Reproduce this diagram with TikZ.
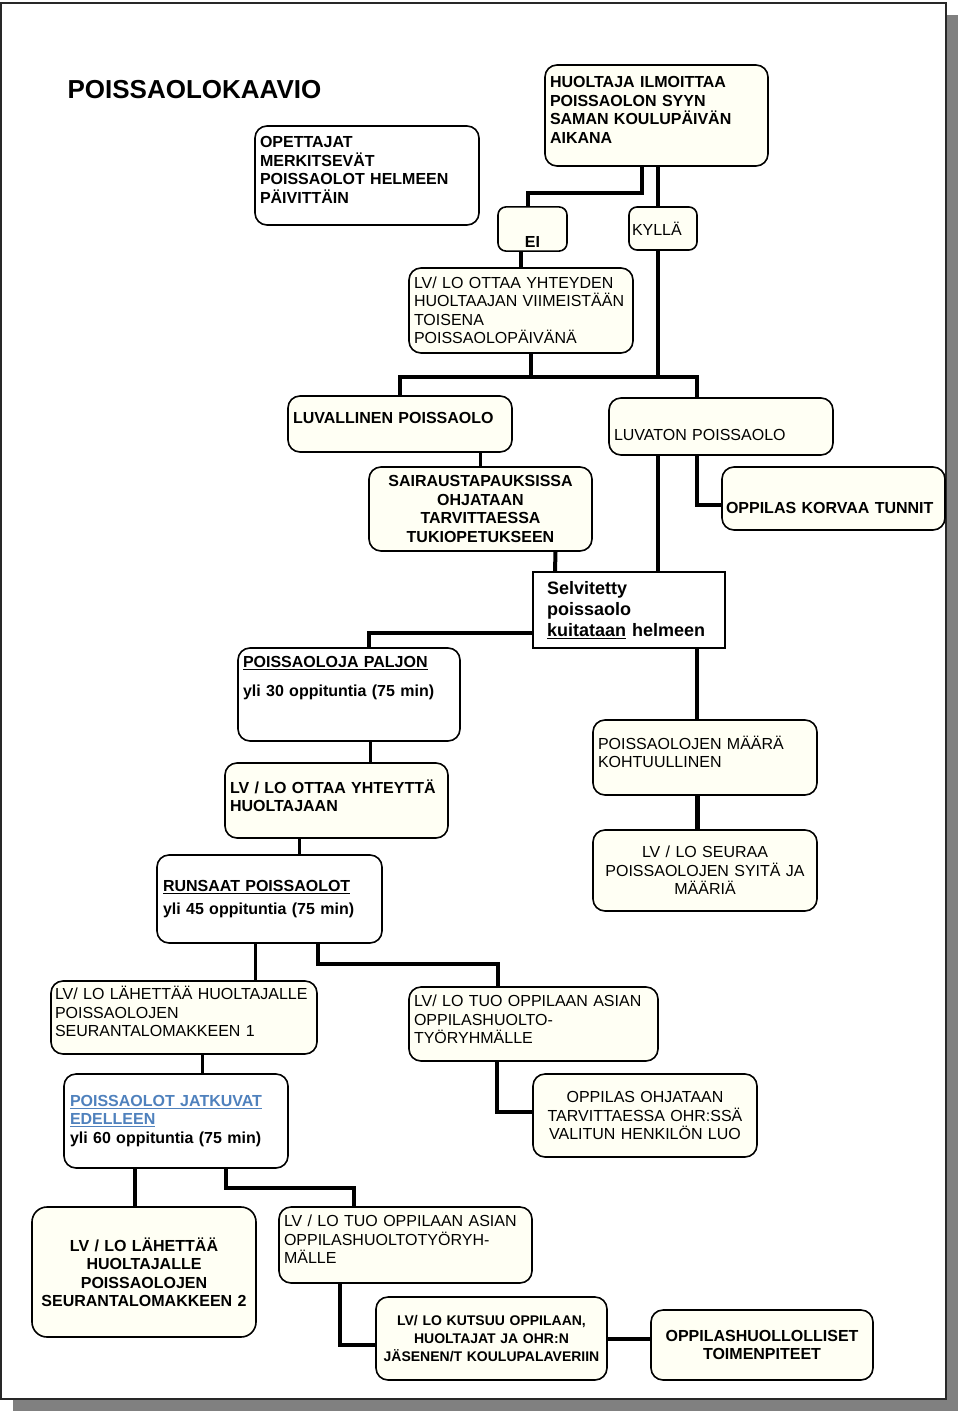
\documentclass[tikz,border=0pt]{standalone}
\usepackage{fontspec}
\setmainfont{Liberation Sans}
\usepackage{tikz}
\usetikzlibrary{positioning}

\definecolor{kerma}{RGB}{255,255,244}
\definecolor{sininen}{RGB}{79,129,189}
\definecolor{varjo}{RGB}{128,128,128}
\definecolor{reuna}{RGB}{40,40,40}

\begin{document}
\begin{tikzpicture}[
  x=1pt, y=-1pt,
  laatikko/.style={
    draw,
    line width=1.6pt,
    rounded corners=12pt,
    fill=kerma,
    inner xsep=5pt,
    align=left,
    font=\fontsize{16}{18.5}\selectfont},
  lihava/.style={font=\fontsize{16}{18.5}\selectfont\bfseries},
  valkoinen/.style={fill=white},
  keskelle/.style={align=center},
  yhteys/.style={line width=4pt},
  ohut/.style={line width=3pt}
  ]
    \useasboundingbox (0,0) rectangle (960,1413);
    \fill[varjo] (13,15) rectangle (958,1411);
    \draw[reuna, line width=1.5pt, fill=white] (1,3) rectangle (946,1399);

    \node[anchor=west, font=\fontsize{26}{30}\selectfont\bfseries] (otsikko) at (64,90) {POISSAOLOKAAVIO};

    \node[laatikko, valkoinen, lihava, minimum width=224pt, minimum height=99pt, text width=214pt] (opettajat) at (367,175.5)
        {OPETTAJAT\\MERKITSEVÄT\\POISSAOLOT HELMEEN\\PÄIVITTÄIN\\[-7.5pt]\mbox{}};
    \node[laatikko, lihava, minimum width=223pt, minimum height=101pt, text width=213pt] (ilmoitus) at (656.5,115.5)
        {HUOLTAJA ILMOITTAA\\POISSAOLON SYYN\\SAMAN KOULUPÄIVÄN\\AIKANA\\[-7.5pt]\mbox{}};
    \node[laatikko, lihava, keskelle, rounded corners=8pt, minimum width=69pt, minimum height=42pt, text width=59pt] (ei) at (532.5,229)
        {\mbox{}\\[19pt]EI};
    \node[laatikko, rounded corners=8pt, inner xsep=3pt, minimum width=68pt, minimum height=43pt, text width=62pt] (kylla) at (663,228.5)
        {KYLLÄ};
    \node[laatikko, minimum width=224pt, minimum height=85pt, text width=214pt] (yhteyden) at (521,310.5)
        {LV/ LO OTTAA YHTEYDEN\\HUOLTAAJAN VIIMEISTÄÄN\\TOISENA\\POISSAOLOPÄIVÄNÄ};

    \node[laatikko, lihava, minimum width=224pt, minimum height=56pt, text width=214pt] (luvallinen) at (400,424)
        {LUVALLINEN POISSAOLO\\[-6.5pt]\mbox{}};
    \node[laatikko, minimum width=224pt, minimum height=57pt, text width=214pt] (luvaton) at (721,426.5)
        {\mbox{}\\[10pt]LUVATON POISSAOLO};
    \node[laatikko, lihava, keskelle, minimum width=223pt, minimum height=84pt, text width=213pt] (sairaus) at (480.5,509)
        {SAIRAUSTAPAUKSISSA\\OHJATAAN\\TARVITTAESSA\\TUKIOPETUKSEEN};
    \node[laatikko, lihava, inner xsep=4pt, minimum width=223pt, minimum height=63pt, text width=215pt] (korvaa) at (833.5,498.5)
        {\mbox{}\\[12pt]OPPILAS KORVAA TUNNIT};

    \node[laatikko, valkoinen, rounded corners=0pt, inner xsep=14pt, minimum width=192pt, minimum height=76pt, text width=164pt,
          font=\fontsize{18}{21}\selectfont\bfseries] (selvitetty) at (629,610)
        {Selvitetty\\poissaolo\\\underline{kuitataan} helmeen};
    \node[laatikko, valkoinen, lihava, minimum width=222pt, minimum height=93pt, text width=212pt] (paljon) at (349,694.5)
        {\underline{POISSAOLOJA PALJON}\\[10.5pt]yli 30 oppituntia (75 min)\\[17.5pt]\mbox{}};
    \node[laatikko, lihava, minimum width=223pt, minimum height=75pt, text width=213pt] (yhteytta) at (336.5,800.5)
        {LV / LO OTTAA YHTEYTTÄ\\HUOLTAJAAN\\[-8.5pt]\mbox{}};
    \node[laatikko, minimum width=224pt, minimum height=75pt, text width=214pt] (maara) at (705,757.5)
        {POISSAOLOJEN MÄÄRÄ\\KOHTUULLINEN\\[-7.5pt]\mbox{}};
    \node[laatikko, valkoinen, lihava, inner xsep=6pt, minimum width=225pt, minimum height=88pt, text width=213pt] (runsaat) at (269.5,899)
        {\underline{RUNSAAT POISSAOLOT}\\[4.5pt]yli 45 oppituntia (75 min)};
    \node[laatikko, keskelle, minimum width=224pt, minimum height=81pt, text width=214pt] (seuraa) at (705,870.5)
        {LV / LO SEURAA\\POISSAOLOJEN SYITÄ JA\\MÄÄRIÄ};

    \node[laatikko, inner xsep=4pt, minimum width=266pt, minimum height=73pt, text width=258pt] (lomake1) at (184,1017.5)
        {LV/ LO LÄHETTÄÄ HUOLTAJALLE\\POISSAOLOJEN\\SEURANTALOMAKKEEN 1\\[-6.5pt]\mbox{}};
    \node[laatikko, minimum width=249pt, minimum height=74pt, text width=239pt] (tuo1) at (533.5,1024)
        {LV/ LO TUO OPPILAAN ASIAN\\OPPILASHUOLTO-\\TYÖRYHMÄLLE\\[-9.5pt]\mbox{}};
    \node[laatikko, valkoinen, lihava, inner xsep=6pt, minimum width=224pt, minimum height=94pt, text width=212pt] (jatkuvat) at (176,1121)
        {\textcolor{sininen}{\underline{POISSAOLOT JATKUVAT}}\\\textcolor{sininen}{\underline{EDELLEEN}}\\yli 60 oppituntia (75 min)};
    \node[laatikko, keskelle, minimum width=224pt, minimum height=83pt, text width=214pt] (ohjataan) at (645,1115.5)
        {OPPILAS OHJATAAN\\TARVITTAESSA OHR:SSÄ\\VALITUN HENKILÖN LUO};

    \node[laatikko, lihava, keskelle, rounded corners=15pt, minimum width=224pt, minimum height=130pt, text width=214pt] (lomake2) at (144,1272)
        {LV / LO LÄHETTÄÄ\\HUOLTAJALLE\\POISSAOLOJEN\\SEURANTALOMAKKEEN 2};
    \node[laatikko, minimum width=253pt, minimum height=76pt, text width=243pt] (tuo2) at (405.5,1245)
        {LV / LO TUO OPPILAAN ASIAN\\OPPILASHUOLTOTYÖRYH-\\MÄLLE\\[-7.5pt]\mbox{}};
    \node[laatikko, keskelle, inner xsep=3pt, minimum width=231pt, minimum height=83pt, text width=225pt,
          font=\fontsize{14}{18}\selectfont\bfseries] (kutsuu) at (491.5,1338.5)
        {LV/ LO KUTSUU OPPILAAN,\\HUOLTAJAT JA OHR:N\\JÄSENEN/T KOULUPALAVERIIN};
    \node[laatikko, lihava, keskelle, minimum width=222pt, minimum height=70pt, text width=212pt] (toimenpiteet) at (762,1345)
        {OPPILASHUOLLOLLISET\\TOIMENPITEET};

    % ylaosa
    \draw[yhteys] ([xshift=-14.5pt]ilmoitus.south) -- ++(0,26) -| ([xshift=-4.5pt]ei.north);
    \draw[yhteys] ([xshift=1.5pt]ilmoitus.south) -- ([xshift=-5pt]kylla.north);
    \draw[yhteys] ([xshift=-11.5pt]ei.south) -- (yhteyden.north);
    \draw[yhteys] (luvallinen.north) -- ++(0,-18) -| ([xshift=-24pt]luvaton.north);
    \draw[yhteys] ([xshift=-5pt]kylla.south) -- ++(0,128);
    \draw[yhteys] ([xshift=10pt]yhteyden.south) -- ++(0,25);
    \draw[ohut] (sairaus.north |- luvallinen.south) -- (sairaus.north);
    \draw[yhteys] ([xshift=75pt]sairaus.south) -- ([xshift=-74pt]selvitetty.north);
    \draw[yhteys] ([xshift=-63pt]luvaton.south) -- ([xshift=29pt]selvitetty.north);
    \draw[yhteys] ([xshift=-24pt]luvaton.south) |- ([yshift=-6pt]korvaa.west);
    % keskiosa
    \draw[yhteys] ([yshift=-23pt]selvitetty.west) -| ([xshift=20pt]paljon.north);
    \draw[yhteys] ([xshift=68pt]selvitetty.south) -- ([xshift=-8pt]maara.north);
    \draw[yhteys, line width=5pt] ([xshift=-8pt]maara.south) -- ([xshift=-8pt]seuraa.north);
    \draw[ohut] ([xshift=21pt]paljon.south) -- ([xshift=33.5pt]yhteytta.north);
    \draw[ohut] ([xshift=-37.5pt]yhteytta.south) -- ([xshift=29.5pt]runsaat.north);
    % alaosa
    \draw[ohut] ([xshift=-14.5pt]runsaat.south) -- ([xshift=71pt]lomake1.north);
    \draw[yhteys] ([xshift=48.5pt]runsaat.south) -- ++(0,20) -| ([xshift=-35.5pt]tuo1.north);
    \draw[ohut] ([xshift=18pt]lomake1.south) -- ([xshift=26pt]jatkuvat.north);
    \draw[yhteys] ([xshift=-36.5pt]tuo1.south) |- ([yshift=3.5pt]ohjataan.west);
    \draw[yhteys] ([xshift=-41pt]jatkuvat.south) -- ([xshift=-9pt]lomake2.north);
    \draw[yhteys] ([xshift=50pt]jatkuvat.south) -- ++(0,19) -| ([xshift=-51.5pt]tuo2.north);
    \draw[yhteys] ([xshift=-65.5pt]tuo2.south) |- ([yshift=-6.5pt]kutsuu.west);
    \draw[yhteys] (kutsuu.east) -- (kutsuu.east -| toimenpiteet.west);
    %\draw[yhteys] (lomake2.east) -- (tuo2.west);
\end{tikzpicture}
\end{document}
